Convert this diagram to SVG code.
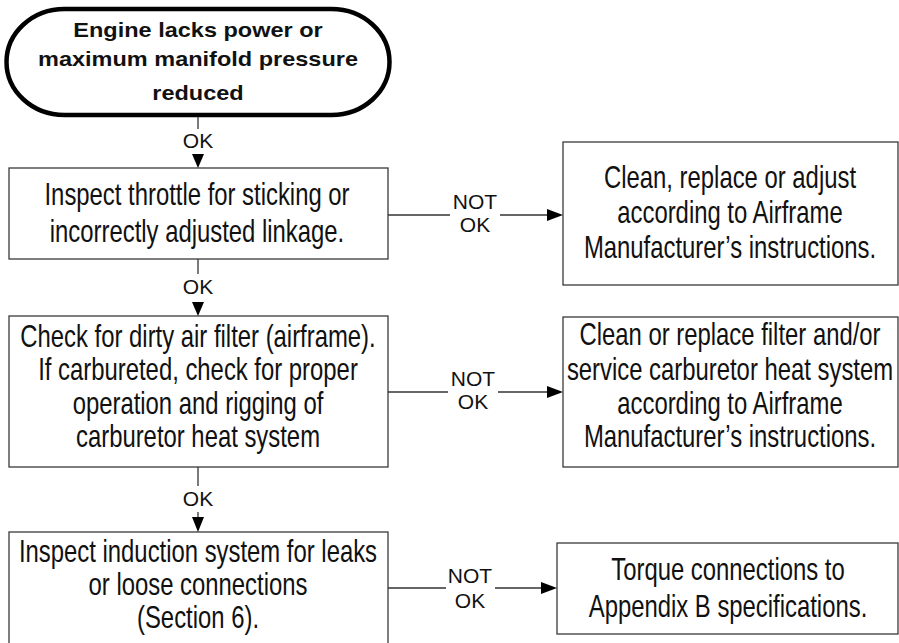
<svg xmlns="http://www.w3.org/2000/svg" width="899" height="643" viewBox="0 0 899 643">
<style>
.box{fill:#fff;stroke:#3a3a3a;stroke-width:1.3}
.term{fill:#fff;stroke:#000;stroke-width:4.5}
.t{font-family:"Liberation Sans",Arial,sans-serif;font-size:31px;fill:#111;text-anchor:middle}
.tb{font-family:"Liberation Sans",Arial,sans-serif;font-size:21px;font-weight:bold;fill:#111;text-anchor:middle}
.lb{font-family:"Liberation Sans",Arial,sans-serif;font-size:21px;fill:#111;text-anchor:middle}
.ln{stroke:#333;stroke-width:1.3;fill:none}
.ah{fill:#000}
</style>
<g id="start">
<rect class="term" x="6.5" y="9" width="383" height="106" rx="58" ry="53"/>
<g transform="translate(198,0) scale(1.12,1)">
<text class="tb" x="0" y="37">Engine lacks power or</text>
<text class="tb" x="0" y="66">maximum manifold pressure</text>
<text class="tb" x="0" y="100">reduced</text>
</g>
</g>
<g id="throttle">
<rect class="box" x="9" y="168" width="379" height="91"/>
<g transform="translate(197,0) scale(0.77,1)">
<text class="t" x="0" y="205">Inspect throttle for sticking or</text>
<text class="t" x="0" y="242">incorrectly adjusted linkage.</text>
</g>
</g>
<g id="airframe-adjust">
<rect class="box" x="563" y="142" width="335" height="143"/>
<g transform="translate(730,0) scale(0.77,1)">
<text class="t" x="0" y="188">Clean, replace or adjust</text>
<text class="t" x="0" y="223">according to Airframe</text>
<text class="t" x="0" y="258">Manufacturer’s instructions.</text>
</g>
</g>
<g id="airfilter">
<rect class="box" x="9" y="316" width="379" height="151"/>
<g transform="translate(198,0) scale(0.77,1)">
<text class="t" x="0" y="347">Check for dirty air filter (airframe).</text>
<text class="t" x="0" y="380">If carbureted, check for proper</text>
<text class="t" x="0" y="414">operation and rigging of</text>
<text class="t" x="0" y="447">carburetor heat system</text>
</g>
</g>
<g id="filter-service">
<rect class="box" x="563" y="317" width="335" height="150"/>
<g transform="translate(730,0) scale(0.77,1)">
<text class="t" x="0" y="345">Clean or replace filter and/or</text>
<text class="t" x="0" y="380">service carburetor heat system</text>
<text class="t" x="0" y="414">according to Airframe</text>
<text class="t" x="0" y="447">Manufacturer’s instructions.</text>
</g>
</g>
<g id="induction">
<rect class="box" x="9" y="532" width="379" height="113"/>
<g transform="translate(198,0) scale(0.77,1)">
<text class="t" x="0" y="562">Inspect induction system for leaks</text>
<text class="t" x="0" y="595">or loose connections</text>
<text class="t" x="0" y="628">(Section 6).</text>
</g>
</g>
<g id="torque">
<rect class="box" x="557" y="543" width="341" height="91"/>
<g transform="translate(728,0) scale(0.77,1)">
<text class="t" x="0" y="580">Torque connections to</text>
<text class="t" x="0" y="617">Appendix B specifications.</text>
</g>
</g>
<g id="connectors">
<line class="ln" x1="198" y1="117" x2="198" y2="129"/>
<text class="lb" x="198" y="148">OK</text>
<polygon class="ah" points="192,154 204,154 198,168"/>
<line class="ln" x1="198" y1="259" x2="198" y2="274"/>
<text class="lb" x="198" y="294">OK</text>
<polygon class="ah" points="192,302 204,302 198,316"/>
<line class="ln" x1="198" y1="467" x2="198" y2="486"/>
<text class="lb" x="198" y="506">OK</text>
<line class="ln" x1="198" y1="512" x2="198" y2="518"/>
<polygon class="ah" points="192,517 204,517 198,532"/>
<line class="ln" x1="388" y1="215" x2="450" y2="215"/>
<line class="ln" x1="500" y1="215" x2="548" y2="215"/>
<polygon class="ah" points="547,209 563,215 547,221"/>
<text class="lb" x="475" y="209">NOT</text>
<text class="lb" x="475" y="232">OK</text>
<line class="ln" x1="388" y1="392" x2="448" y2="392"/>
<line class="ln" x1="498" y1="392" x2="548" y2="392"/>
<polygon class="ah" points="547,386 563,392 547,398"/>
<text class="lb" x="473" y="386">NOT</text>
<text class="lb" x="473" y="409">OK</text>
<line class="ln" x1="388" y1="588" x2="446" y2="588"/>
<line class="ln" x1="495" y1="588" x2="542" y2="588"/>
<polygon class="ah" points="541,582 557,588 541,594"/>
<text class="lb" x="470" y="583">NOT</text>
<text class="lb" x="470" y="608">OK</text>
</g>
</svg>
